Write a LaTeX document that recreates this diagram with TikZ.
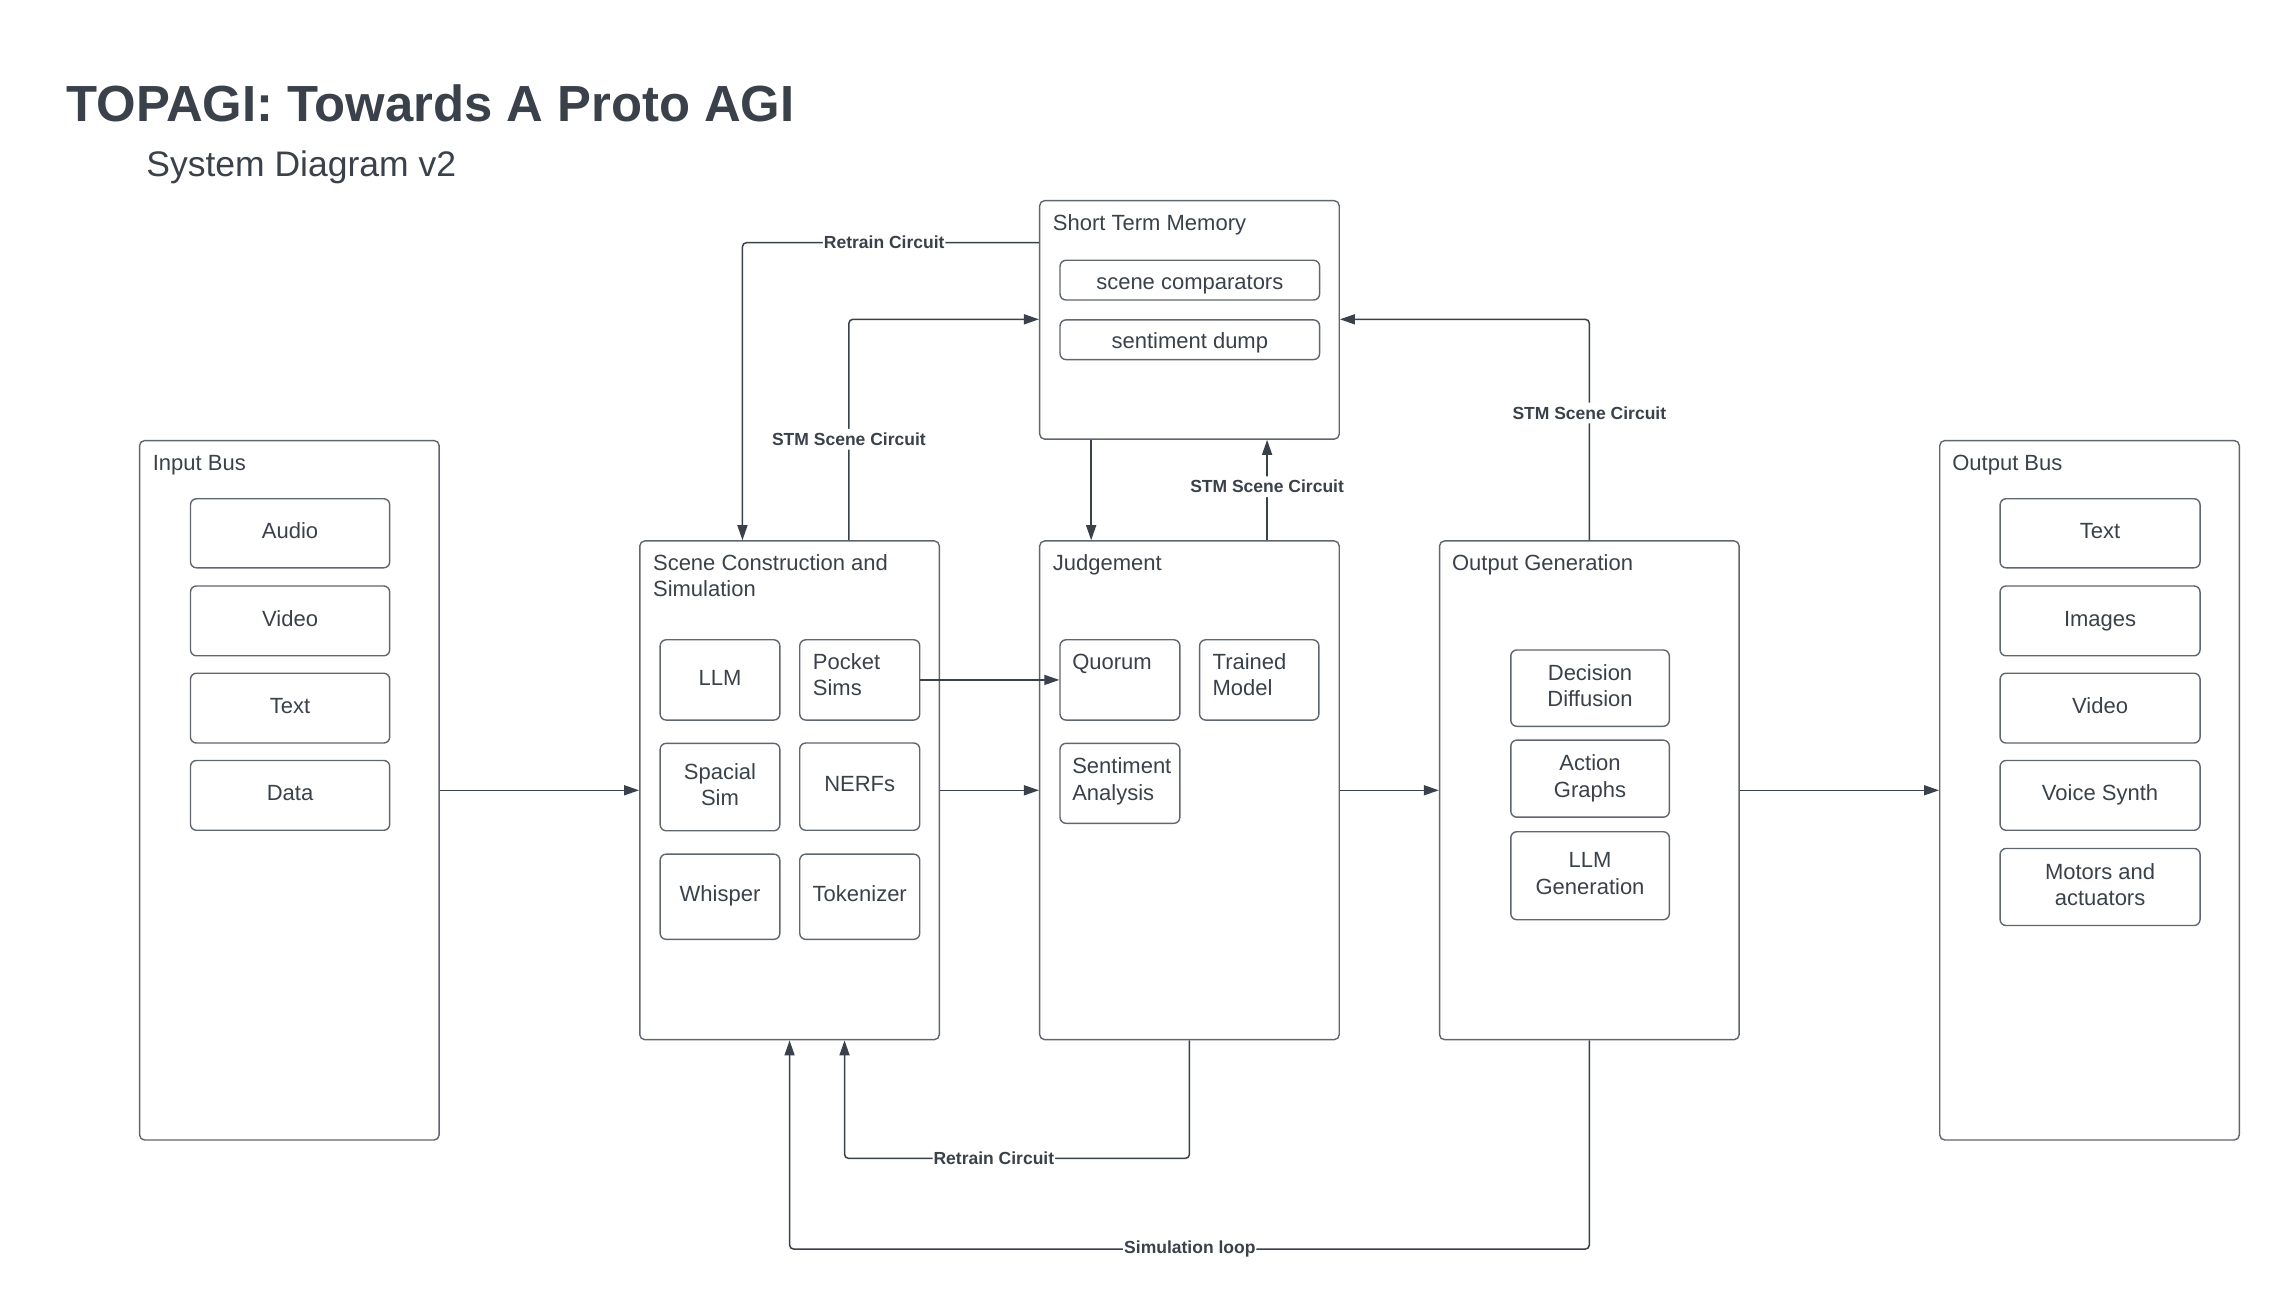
\documentclass[tikz,border=0pt]{standalone}
\usepackage{fontspec}
\setmainfont{Liberation Sans}
\usetikzlibrary{arrows.meta,fit}
\definecolor{ink}{HTML}{3A414A}
\definecolor{edge}{HTML}{60666F}
\newcommand\lefttop[1]{\begin{tabular}[t]{@{}l@{}}#1\end{tabular}}
\newcommand\cenblock[1]{\begin{tabular}{@{}c@{}}#1\end{tabular}}
\begin{document}
\begin{tikzpicture}[x=1.454pt,y=-1.454pt,
  cont/.style={draw=edge, line width=1.4pt, rounded corners=5pt, inner sep=0pt},
  ibox/.style={draw=edge, line width=1.4pt, rounded corners=6pt, inner sep=0pt},
  ctext/.style={anchor=center, inner sep=0pt, text=ink, font=\fontsize{22}{26.2}\selectfont},
  hd/.style={anchor=base west, inner sep=0pt, text=ink, font=\fontsize{22}{26.2}\selectfont},
  bigtitle/.style={anchor=base west, inner sep=0pt, text=ink, font=\fontsize{50.8}{60}\selectfont\bfseries},
  subtitle/.style={anchor=base west, inner sep=0pt, text=ink, font=\fontsize{35.5}{42}\selectfont},
  arr/.style={draw=ink, line width=1.5pt, -{Triangle[length=15pt,width=10pt]}, rounded corners=4pt},
  lab/.style={fill=white, text=ink, font=\fontsize{17.5}{20}\selectfont\bfseries, inner xsep=1pt, inner ysep=4pt},
]
\useasboundingbox (0,0) rectangle (1568,895);

% titles
\node[bigtitle] (ttl) at (45.5,83.7) {TOPAGI: Towards A Proto AGI};
\node[subtitle] (sub) at (100.5,121.5) {System Diagram v2};

% containers
\node[cont, fit={(96,303) (302,784)}] (inb) {};
\node[cont, fit={(440,372) (646,715)}] (scn) {};
\node[cont, fit={(715,372) (921,715)}] (jdg) {};
\node[cont, fit={(715,138) (921,302)}] (stm) {};
\node[cont, fit={(990,372) (1196,715)}] (ogn) {};
\node[cont, fit={(1334,303) (1540,784)}] (outb) {};

% container headings
\node[hd] (inbT) at (105,323.3) {Input Bus};
\node[hd] (stmT) at (724,158.7) {Short Term Memory};
\node[hd] (scnT) at (449,392) {\lefttop{Scene Construction and\\Simulation}};
\node[hd] (jdgT) at (724,392) {Judgement};
\node[hd] (ognT) at (998.5,392) {Output Generation};
\node[hd] (outbT) at (1342.5,323.3) {Output Bus};

% input bus items
\node[ibox, fit={(131,343) (268,390.5)}] (iaud) {};
\node[ctext] (iaudT) at (iaud.center) {\cenblock{Audio}};
\node[ibox, fit={(131,403) (268,451)}] (ivid) {};
\node[ctext] (ividT) at (ivid.center) {\cenblock{Video}};
\node[ibox, fit={(131,463) (268,511)}] (itxt) {};
\node[ctext] (itxtT) at (itxt.center) {\cenblock{Text}};
\node[ibox, fit={(131,523) (268,571)}] (idat) {};
\node[ctext] (idatT) at (idat.center) {\cenblock{Data}};

% short term memory items
\node[ibox, fit={(729,179) (907.5,206.3)}] (scmp) {};
\node[ctext, yshift=-3.8pt] (scmpT) at (scmp.center) {\cenblock{scene comparators}};
\node[ibox, fit={(729,220) (907.5,247.3)}] (sdmp) {};
\node[ctext, yshift=-3.8pt] (sdmpT) at (sdmp.center) {\cenblock{sentiment dump}};

% scene construction items
\node[ibox, fit={(454,440) (536.3,495.2)}] (llm) {};
\node[ctext] (llmT) at (llm.center) {\cenblock{LLM}};
\node[ibox, fit={(550,440) (632.5,495.2)}] (psim) {};
\node[hd] (psimT) at (558.9,460.3) {\lefttop{Pocket\\Sims}};
\node[ibox, fit={(454,511.2) (536.3,571.3)}] (ssim) {};
\node[ctext] (ssimT) at (ssim.center) {\cenblock{Spacial\\Sim}};
\node[ibox, fit={(550,511) (632.5,571)}] (nerf) {};
\node[ctext] (nerfT) at (nerf.center) {\cenblock{NERFs}};
\node[ibox, fit={(454,587.4) (536.3,646)}] (whsp) {};
\node[ctext] (whspT) at (whsp.center) {\cenblock{Whisper}};
\node[ibox, fit={(550,587.4) (632.5,646)}] (tokn) {};
\node[ctext] (toknT) at (tokn.center) {\cenblock{Tokenizer}};

% judgement items
\node[ibox, fit={(729,440) (811.4,495.2)}] (quo) {};
\node[hd] (quoT) at (737.3,460.3) {Quorum};
\node[ibox, fit={(825,440) (907,495.2)}] (trm) {};
\node[hd] (trmT) at (833.8,460.3) {\lefttop{Trained\\Model}};
\node[ibox, fit={(729,511.2) (811.4,566.2)}] (sent) {};
\node[hd] (sentT) at (737.3,532.2) {\lefttop{Sentiment\\Analysis}};

% output generation items
\node[ibox, fit={(1039,447) (1148,499.5)}] (ddif) {};
\node[ctext] (ddifT) at (ddif.center) {\cenblock{Decision\\Diffusion}};
\node[ibox, fit={(1039,509) (1148,562)}] (agr) {};
\node[ctext] (agrT) at (agr.center) {\cenblock{Action\\Graphs}};
\node[ibox, fit={(1039,572) (1148,632.5)}] (lgen) {};
\node[ctext] (lgenT) at (lgen.center) {\cenblock{LLM\\Generation}};

% output bus items
\node[ibox, fit={(1375.5,343) (1513,390.5)}] (otxt) {};
\node[ctext] (otxtT) at (otxt.center) {\cenblock{Text}};
\node[ibox, fit={(1375.5,403) (1513,451)}] (oimg) {};
\node[ctext] (oimgT) at (oimg.center) {\cenblock{Images}};
\node[ibox, fit={(1375.5,463) (1513,511)}] (ovid) {};
\node[ctext] (ovidT) at (ovid.center) {\cenblock{Video}};
\node[ibox, fit={(1375.5,523) (1513,571)}] (ovs) {};
\node[ctext] (ovsT) at (ovs.center) {\cenblock{Voice Synth}};
\node[ibox, fit={(1375.5,583.5) (1513,636.5)}] (omot) {};
\node[ctext] (omotT) at (omot.center) {\cenblock{Motors and\\actuators}};

% bend points
\coordinate (rt1) at (510.6,166.9);
\coordinate (st1) at (583.8,219.6);
\coordinate (dn1) at (750.4,0);
\coordinate (up1) at (871.4,0);
\coordinate (og1) at (1093,219.6);
\coordinate (rb1) at (818,796.6);
\coordinate (rb2) at (580.8,796.6);
\coordinate (sl1) at (1093,859);
\coordinate (sl2) at (543,859);

% main flow
\draw[arr] (inb.east) -- (scn.west);
\draw[arr] (scn.east) -- (jdg.west);
\draw[arr] (psim.east) -- (quo.west);
\draw[arr] (jdg.east) -- (ogn.west);
\draw[arr] (ogn.east) -- (outb.west);

% circuits
\draw[arr] (stm.west |- rt1) -- node[lab, pos=0.522] (l1) {Retrain Circuit} (rt1) -- (scn.north -| rt1);
\draw[arr] (scn.north -| st1) -- node[lab, pos=0.457] (l2) {STM Scene Circuit} (st1) -- (stm.west |- st1);
\draw[arr] (stm.south -| dn1) -- (jdg.north -| dn1);
\draw[arr] (jdg.north -| up1) -- node[lab, pos=0.533] (l3) {STM Scene Circuit} (stm.south -| up1);
\draw[arr] (ogn.north) -- node[lab, pos=0.576] (l4) {STM Scene Circuit} (og1) -- (stm.east |- og1);
\draw[arr] (jdg.south) -- (rb1) -- node[lab, pos=0.567] (l5) {Retrain Circuit} (rb2) -- (scn.south -| rb2);
\draw[arr] (ogn.south) -- (sl1) -- node[lab, pos=0.4995] (l6) {Simulation loop} (sl2) -- (scn.south);
\end{tikzpicture}
\end{document}
